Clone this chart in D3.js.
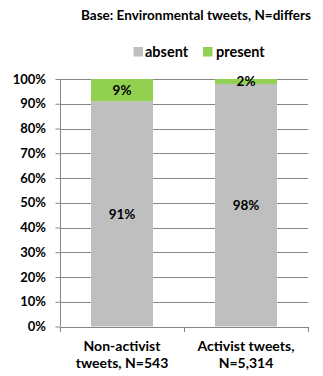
<!DOCTYPE html>
<html>
<head>
<meta charset="utf-8">
<script src="https://cdn.jsdelivr.net/npm/d3@7"></script>
<style>
  html, body { margin: 0; padding: 0; background: #fff; }
  svg text { font-family: Lato, "Open Sans", "Liberation Sans", sans-serif; font-weight: bold; fill: #000; }
</style>
</head>
<body>
<svg id="chart" width="323" height="376"></svg>
<script>
const categories = [["Non-activist", "tweets, N=543"], ["Activist tweets,", "N=5,314"]];
const absent = [91, 98];
const present = [9, 2];
const seriesNames = ["absent", "present"];
const seriesColors = ["#bfbfbf", "#92d050"];
const yTicks = [0, 10, 20, 30, 40, 50, 60, 70, 80, 90, 100];

const svg = d3.select("#chart");
const margin = { left: 60, right: 15, top: 79, bottom: 50 };
const W = 323, H = 376;
const plotBottom = 326.5;

const x = d3.scaleBand().domain(d3.range(categories.length)).range([margin.left, W - margin.right]).paddingInner(0.5).paddingOuter(0.25);
const y = d3.scaleLinear().domain([0, 100]).range([plotBottom, margin.top]);

// Title
svg.append("text").attr("x", 196).attr("y", 20).attr("text-anchor", "middle")
  .style("font-size", "13.5px").text("Base: Environmental tweets, N=differs");

// Legend
const legend = svg.append("g");
const legendSquareX = [133.5, 203];
const legendTextX = [145, 216];
seriesNames.forEach((name, i) => {
  legend.append("rect").attr("x", legendSquareX[i]).attr("y", 47).attr("width", 9.5).attr("height", 9.5).attr("fill", seriesColors[i]);
  legend.append("text").attr("x", legendTextX[i]).attr("y", 56.5).style("font-size", "14.5px").text(name);
});

// Gridlines
svg.append("g").selectAll("line").data(yTicks).join("line")
  .attr("x1", margin.left).attr("x2", W - margin.right)
  .attr("y1", d => Math.round(y(d)) + 0.5).attr("y2", d => Math.round(y(d)) + 0.5)
  .attr("stroke", "#868686").attr("stroke-width", 1);

// Stacked bars
const stack = d3.stack().keys([0, 1])(categories.map((c, i) => [absent[i], present[i]]));
stack.forEach((layer, k) => {
  svg.append("g").selectAll("rect").data(layer).join("rect")
    .attr("x", (d, i) => x(i))
    .attr("width", x.bandwidth())
    .attr("y", d => y(d[1]))
    .attr("height", d => y(d[0]) - y(d[1]))
    .attr("fill", seriesColors[k]);
});

// Value labels
const values = [absent, present];
stack.forEach((layer, k) => {
  svg.append("g").selectAll("text").data(layer).join("text")
    .attr("x", (d, i) => x(i) + x.bandwidth() / 2)
    .attr("y", d => (y(d[0]) + y(d[1])) / 2 + 5)
    .attr("text-anchor", "middle")
    .style("font-size", "13.5px")
    .text((d, i) => values[k][i] + "%");
});

// Y axis
const yAxis = d3.axisLeft(y).tickValues(yTicks).tickFormat(d => d + "%").tickSize(5).tickPadding(9.5);
const gy = svg.append("g").attr("transform", `translate(${margin.left + 0.5},0)`).call(yAxis);
gy.select(".domain").attr("stroke", "#868686").attr("d", `M0,${y(100)}V${y(0)}`);
gy.selectAll(".tick line").attr("stroke", "#868686");
gy.selectAll(".tick text").style("font-size", "13px").attr("font-family", null);

// X axis baseline and category dividers
const gx = svg.append("g");
gx.append("line").attr("x1", margin.left).attr("x2", W - margin.right)
  .attr("y1", Math.round(plotBottom) + 0.5).attr("y2", Math.round(plotBottom) + 0.5).attr("stroke", "#868686");
const dividers = d3.range(categories.length + 1).map(i => margin.left + i * (W - margin.right - margin.left) / categories.length);
gx.selectAll("line.div").data(dividers).join("line").attr("class", "div")
  .attr("x1", d => Math.round(d) + 0.5).attr("x2", d => Math.round(d) + 0.5)
  .attr("y1", Math.round(plotBottom)).attr("y2", Math.round(plotBottom) + 5).attr("stroke", "#868686");

// Category labels
categories.forEach((lines, i) => {
  const cx = x(i) + x.bandwidth() / 2;
  const t = svg.append("text").attr("x", cx).attr("y", 351).attr("text-anchor", "middle").style("font-size", "14px");
  lines.forEach((ln, j) => t.append("tspan").attr("x", cx).attr("dy", j === 0 ? 0 : 16.5).text(ln));
});
</script>
</body>
</html>
